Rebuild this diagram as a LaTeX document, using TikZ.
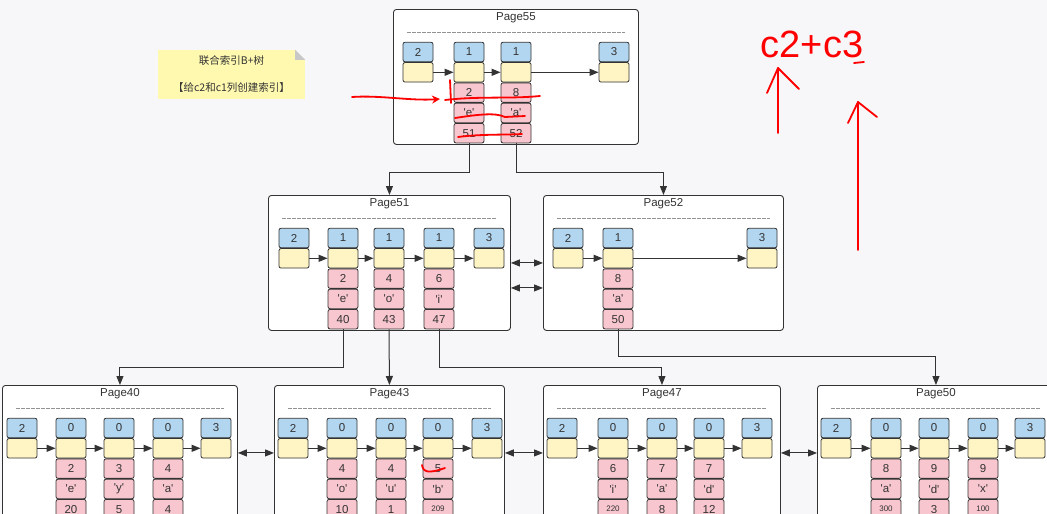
\documentclass[tikz,border=0pt]{standalone}
\usepackage{fontspec}
\setmainfont{Liberation Sans}
\newfontfamily\cjk{Noto Sans CJK SC}
\usepackage{xcolor}
\usepackage{tikz}
\usetikzlibrary{positioning, arrows.meta}

\definecolor{bgcol}{RGB}{247,246,248}
\definecolor{hdrblue}{RGB}{178,214,240}
\definecolor{ptryellow}{RGB}{255,245,196}
\definecolor{recpink}{RGB}{248,198,206}
\definecolor{noteyellow}{RGB}{255,249,176}
\definecolor{foldgray}{RGB}{200,200,200}
\definecolor{edgegray}{RGB}{51,51,51}
\definecolor{inkred}{RGB}{255,0,0}

\newcommand{\quoted}[1]{\textquotesingle#1\textquotesingle}
\newcommand{\smallnum}[1]{{\fontsize{8}{9}\selectfont#1}}

\tikzset{
  cell/.style={draw=edgegray, line width=0.8pt, rounded corners=2pt, minimum width=30pt,
    minimum height=19.5pt, inner sep=0pt, font=\fontsize{11.5}{12}\selectfont, text=edgegray},
  hdr/.style={cell, fill=hdrblue},
  ptr/.style={cell, fill=ptryellow},
  rec/.style={cell, fill=recpink},
  page/.style={draw=edgegray, fill=white, line width=0.9pt, rounded corners=3pt,
    inner sep=0pt, minimum height=135pt},
  ptitle/.style={font=\fontsize{11.5}{12}\selectfont, text=edgegray},
  pagerule/.style={draw=gray!85, line width=0.7pt, dash pattern=on 3.5pt off 1.5pt},
  link/.style={draw=edgegray, line width=1pt, -{Triangle[length=9pt,width=7pt]}},
  sib/.style={draw=edgegray, line width=1pt, {Triangle[length=9pt,width=7pt]}-{Triangle[length=9pt,width=7pt]}},
  note/.style={fill=noteyellow, minimum width=147pt, minimum height=49pt, inner sep=0pt,
    align=center, font=\cjk\fontsize{10.5}{27}\selectfont, text=edgegray},
  ink/.style={draw=inkred, line width=1.8pt, line cap=round, line join=round}
}

\begin{document}
\begin{tikzpicture}[x=1pt, y=-1pt]
\useasboundingbox (0,0) rectangle (1047,514);
\clip (0,0) rectangle (1047,514);
\fill[bgcol] (0,0) rectangle (1047,514);

% Nota
\node[note] (note) at (231.5,74.5) {联合索引B+树\\【给c2和c1列创建索引】};
\fill[bgcol] (note.north east) -- ++(-10,0) -- ++(10,10) -- cycle;
\fill[foldgray] ([xshift=-10pt]note.north east) -- ++(10,10) -- ++(-10,0) -- cycle;

% Paginas
\foreach \pg/\lft/\ptop/\pw/\ttl/\cols in {
    p55/393/9/245/Page55/{418/2,469/1,516/1,614/3},
    p51/268/195/242/Page51/{294/2,343/1,389/1,439/1,489/3},
    p52/543/195/240/Page52/{568/2,618/1,762/3},
    p40/2/385/235/Page40/{22/2,71/0,119/0,168/0,216/3},
    p43/274/385/230/Page43/{293/2,342/0,391/0,438/0,487/3},
    p47/543/385/237/Page47/{562/2,613/0,662/0,709/0,757/3},
    p50/817/385/237/Page50/{836/2,886/0,934/0,983/0,1030/3}}{
  \node[page, minimum width=\pw pt, anchor=north west] (\pg) at (\lft,\ptop) {};
  \node[ptitle] (\pg t) at ([yshift=-9pt]\pg.north) {\ttl};
  \draw[pagerule] ([xshift=14pt,yshift=-23pt]\pg.north west) -- ([xshift=-14pt,yshift=-23pt]\pg.north east);
  \foreach \x/\hv [count=\i from 0, remember=\i as \j (initially 0)] in \cols {
    \node[hdr] (\pg h\i) at (\x,\ptop+43) {\hv};
    \node[ptr, below=0pt of \pg h\i] (\pg y\i) {};
    \ifnum\i>0 \draw[link] (\pg y\j) -- (\pg y\i); \fi
  }
}

% Registros
\foreach \pg/\i/\ka/\kb/\kc in {p55/1/2/e/51, p55/2/8/a/52,
    p51/1/2/e/40, p51/2/4/o/43, p51/3/6/i/47, p52/1/8/a/50,
    p40/1/2/e/20, p40/2/3/y/5, p40/3/4/a/4,
    p43/1/4/o/10, p43/2/4/u/1, p43/3/5/b/\smallnum{209},
    p47/1/6/i/\smallnum{220}, p47/2/7/a/8, p47/3/7/d/12,
    p50/1/8/a/\smallnum{300}, p50/2/9/d/3, p50/3/9/x/\smallnum{100}}{
  \node[rec, below=0pt of \pg y\i] (\pg a\i) {\ka};
  \node[rec, below=0pt of \pg a\i] (\pg b\i) {\quoted{\kb}};
  \node[rec, below=0pt of \pg b\i] (\pg c\i) {\kc};
}

% Punteros entre paginas
\draw[link] (p55c1.south) -- ++(0,29) -| (p51.north);
\draw[link] (p55c2.south) -- ++(0,29) -| (p52.north);
\draw[link] (p51c1.south) -- ++(0,38) -| (p40.north);
\draw[link] (p51c2.south) -- (p43.north);
\draw[link] (p51c3.south) -- ++(0,38) -| (p47.north);
\draw[link] (p52c1.south) -- ++(0,27) -| (p50.north);

% Hermanas
\draw[sib] (p51.east) -- (p52.west);
\draw[sib] ([yshift=-25pt]p51.east) -- ([yshift=-25pt]p52.west);
\draw[sib] (p40.east) -- (p43.west);
\draw[sib] (p43.east) -- (p47.west);
\draw[sib] (p47.east) -- (p50.west);

% Anotaciones
\draw[ink, -{Stealth[length=8pt,width=8pt]}] (352,97) .. controls (380,95) and (410,101) .. (440,99);
\draw[ink] (450,80) -- (451,103);
\draw[ink] (445,100) .. controls (480,96) and (510,99) .. (540,96);
\draw[ink] (455,118) .. controls (475,115) and (495,112) .. (505,117) -- (525,116);
\draw[ink] (458,137) .. controls (480,134) and (505,135) .. (522,134);
\node[text=inkred, font=\fontsize{38}{38}\selectfont] (hint) at (812,44) {c2+c3};
\draw[ink] (854,63) -- (864,62);
\draw[ink] (778,133) -- (778,68);
\draw[ink] (767,93) -- (778,68) -- (799,89);
\draw[ink] (858,250) -- (858,102);
\draw[ink] (848,123) -- (858,102) -- (877,117);
\draw[ink] (422,465) .. controls (423,472) and (428,474) .. (445,468);
\end{tikzpicture}
\end{document}
